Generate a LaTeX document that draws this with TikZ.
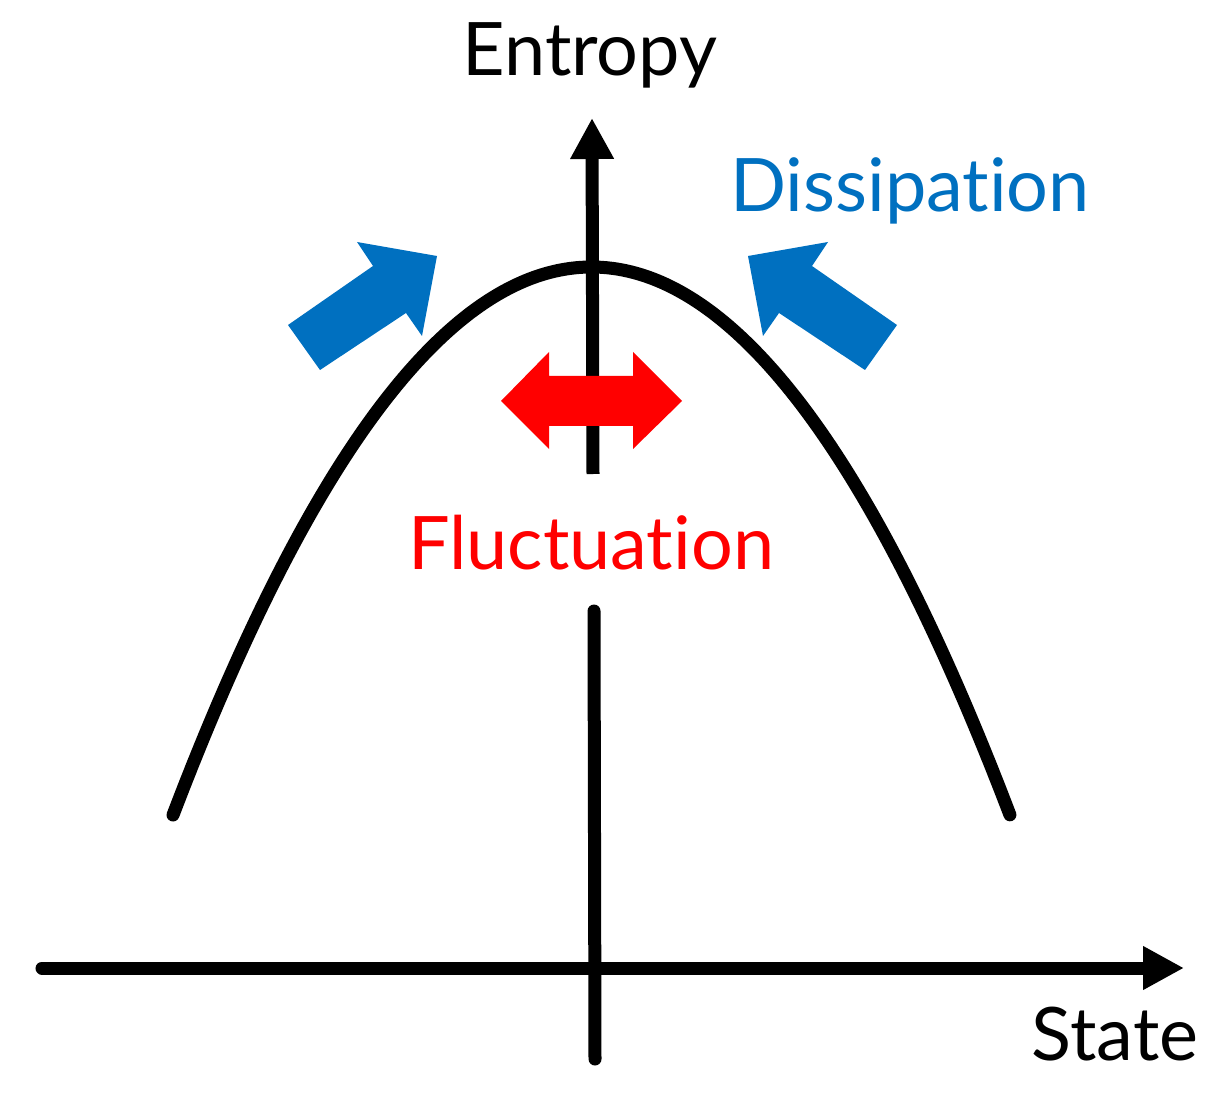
\documentclass[tikz,border=0pt]{standalone}
\usepackage{fontspec}
\setmainfont{Lato}[Ligatures={NoCommon}]
\usetikzlibrary{arrows.meta,positioning}
\definecolor{dissblue}{HTML}{0070C0}
\definecolor{flucred}{HTML}{FF0000}

\begin{document}
\begin{tikzpicture}[x=1cm,y=-1cm,
  axe/.style={line width=0.13cm},
  courbe/.style={line width=0.13cm,line cap=round},
  lbl/.style={font=\fontsize{21}{25}\selectfont,anchor=base,inner sep=0pt}]

\tikzset{pointe/.style={-{Triangle[length=0.41cm,width=0.41cm]}}}

\useasboundingbox (0,0) rectangle (12.09,10.97);

% axes
\coordinate (xtail) at (0.42,9.68);
\coordinate (xtip)  at (11.84,9.68);
\coordinate (ytip)  at (5.92,1.18);
\coordinate (ygapT) at (5.93,4.74);
\coordinate (ygapB) at (5.94,6.11);
\coordinate (ybot)  at (5.95,10.59);
\draw[axe,line cap=round,pointe] (xtail) -- (xtip);
\draw[axe,pointe] (ygapT) -- (ytip);
\draw[axe,line cap=round] (ygapB) -- (ybot);

% entropy curve
\draw[courbe] plot[domain=1.73:10.10,samples=80,smooth]
  (\x,{2.67+5.48*((\x-5.915)/4.185)^2});

% dissipation arrows
\fill[dissblue] (2.88,3.25) -- (3.73,2.66) -- (3.57,2.42) -- (4.37,2.56)
  -- (4.22,3.36) -- (4.06,3.13) -- (3.20,3.70) -- cycle;
\fill[dissblue] (8.97,3.25) -- (8.12,2.66) -- (8.28,2.42) -- (7.48,2.56)
  -- (7.63,3.36) -- (7.79,3.13) -- (8.65,3.70) -- cycle;

% fluctuation arrow
\fill[flucred] (5.01,4.01) -- (5.49,3.52) -- (5.49,3.76) -- (6.33,3.76)
  -- (6.33,3.52) -- (6.82,4.01) -- (6.33,4.49) -- (6.33,4.26)
  -- (5.49,4.26) -- (5.49,4.49) -- cycle;

% labels
\node[lbl] (entropy) at (5.90,0.76) {Entropy};
\node[lbl,text=dissblue] (diss) at (9.10,2.12) {Dissipation};
\node[lbl,text=flucred] (fluc) at (5.91,5.69) {Fluctuation};
\node[lbl] (state) at (11.15,10.60) {State};
\end{tikzpicture}
\end{document}
